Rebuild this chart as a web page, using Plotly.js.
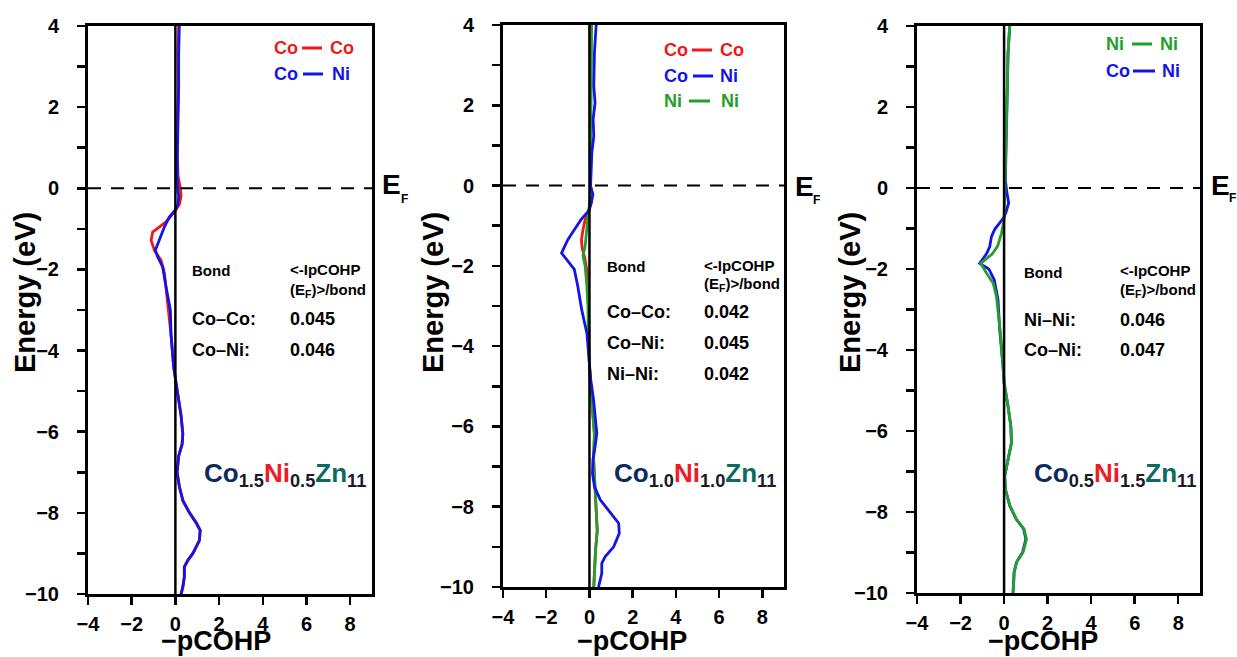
<!DOCTYPE html>
<html>
<head>
<meta charset="utf-8">
<script src="https://cdn.plot.ly/plotly-3.0.1.min.js"></script>
<style>html,body{margin:0;padding:0;background:#fff;}#chart{width:1237px;height:657px;}</style>
</head>
<body>
<div id="chart"></div>
<script>
// ---------------- DATA ----------------
// Panel 1: Co1.5Ni0.5Zn11
const energy1_CoCo = [4.0, 3.3, 2.5, 1.7, 0.85, 0.3, 0.0, -0.2, -0.4, -0.55, -0.83, -1.08, -1.28, -1.53, -1.77, -2.1, -2.43, -3.0, -3.6, -4.4, -4.8, -5.2, -5.6, -6.05, -6.3, -6.6, -7.0, -7.35, -7.7, -8.0, -8.25, -8.43, -8.68, -9.0, -9.17, -9.33, -9.58, -9.83, -10];
const pcohp1_CoCo  = [0.15, 0.12, 0.13, 0.1, 0.08, 0.12, 0.23, 0.26, 0.18, 0.0, -0.43, -1.04, -1.11, -0.96, -0.66, -0.5, -0.43, -0.31, -0.2, -0.08, 0.03, 0.15, 0.26, 0.34, 0.31, 0.15, 0.08, 0.18, 0.35, 0.66, 0.97, 1.14, 1.1, 0.8, 0.57, 0.41, 0.41, 0.34, 0.26];
const energy1_CoNi = [4.0, 3.3, 2.5, 1.7, 0.85, 0.3, 0.0, -0.2, -0.4, -0.55, -0.71, -0.95, -1.28, -1.53, -1.69, -1.94, -2.43, -3.0, -3.6, -4.4, -4.8, -5.2, -5.6, -6.05, -6.3, -6.6, -7.0, -7.35, -7.7, -8.0, -8.25, -8.43, -8.68, -9.0, -9.17, -9.33, -9.58, -9.83, -10];
const pcohp1_CoNi  = [0.18, 0.15, 0.15, 0.11, 0.09, 0.09, 0.1, 0.15, 0.12, -0.03, -0.28, -0.5, -0.73, -0.92, -0.81, -0.58, -0.43, -0.23, -0.2, -0.08, 0.03, 0.15, 0.26, 0.34, 0.31, 0.15, 0.08, 0.18, 0.34, 0.64, 0.95, 1.13, 1.1, 0.8, 0.57, 0.41, 0.41, 0.34, 0.26];

// Panel 2: Co1.0Ni1.0Zn11
const energy2_CoCo = [4.0, 2.0, 0.5, 0.0, -0.2, -0.4, -0.6, -0.85, -1.1, -1.35, -1.55, -1.8, -2.1, -2.5, -3.1, -4.0, -4.5, -5.3, -6.2, -6.8, -7.5, -8.2, -8.6, -9.1, -9.6, -10];
const pcohp2_CoCo  = [0.02, 0.02, 0.02, 0.05, 0.12, 0.1, 0.0, -0.2, -0.3, -0.37, -0.34, -0.22, -0.12, -0.08, -0.04, -0.02, 0.0, 0.1, 0.23, 0.19, 0.26, 0.35, 0.36, 0.28, 0.22, 0.2];
const energy2_NiNi = [4.0, 3.0, 2.0, 1.0, 0.0, -0.3, -0.7, -1.1, -1.5, -1.75, -2.0, -2.5, -3.0, -3.7, -4.5, -5.3, -6.2, -6.8, -7.5, -8.2, -8.6, -9.1, -9.6, -10];
const pcohp2_NiNi  = [0.1, 0.08, 0.07, 0.05, 0.02, 0.04, -0.05, -0.12, -0.2, -0.3, -0.2, -0.12, -0.07, -0.05, 0.0, 0.1, 0.23, 0.19, 0.26, 0.35, 0.36, 0.28, 0.22, 0.2];
const energy2_CoNi = [4.0, 3.31, 2.48, 2.06, 1.65, 1.23, 0.82, 0.4, -0.02, -0.22, -0.43, -0.64, -0.85, -1.1, -1.35, -1.68, -1.85, -2.09, -2.51, -3.09, -3.67, -4.5, -4.84, -5.34, -5.75, -6.17, -6.5, -6.83, -7.17, -7.5, -7.83, -8.16, -8.41, -8.66, -9.0, -9.24, -9.41, -9.66, -10];
const pcohp2_CoNi  = [0.31, 0.23, 0.2, 0.26, 0.17, 0.2, 0.11, 0.08, 0.05, 0.16, 0.08, -0.05, -0.39, -0.7, -1.0, -1.29, -1.04, -0.7, -0.54, -0.36, -0.12, 0.0, 0.06, 0.19, 0.26, 0.34, 0.26, 0.16, 0.14, 0.23, 0.5, 0.96, 1.35, 1.38, 1.12, 0.73, 0.57, 0.57, 0.42];

// Panel 3: Co0.5Ni1.5Zn11
const energy3_CoNi = [4.0, 3.3, 2.5, 1.7, 0.85, 0.2, -0.04, -0.37, -0.58, -0.72, -0.86, -1.02, -1.2, -1.45, -1.62, -1.82, -1.86, -2.0, -2.27, -2.76, -3.5, -4.4, -4.81, -5.39, -5.88, -6.29, -6.7, -7.11, -7.44, -7.85, -8.18, -8.42, -8.67, -9.0, -9.24, -9.49, -9.74, -10];
const pcohp3_CoNi  = [0.26, 0.18, 0.15, 0.11, 0.08, 0.06, 0.11, 0.21, 0.1, 0.0, -0.2, -0.43, -0.58, -0.66, -0.8, -1.08, -1.12, -0.7, -0.45, -0.28, -0.2, -0.05, 0.0, 0.18, 0.31, 0.34, 0.18, 0.03, 0.06, 0.27, 0.56, 0.9, 1.0, 0.85, 0.57, 0.46, 0.44, 0.41];
const energy3_NiNi = [4.0, 3.32, 2.5, 1.68, 0.86, 0.2, -0.37, -0.79, -1.12, -1.44, -1.63, -1.86, -2.1, -2.35, -2.68, -3.0, -3.58, -4.4, -4.81, -5.39, -5.88, -6.29, -6.7, -7.11, -7.44, -7.85, -8.18, -8.42, -8.67, -9.0, -9.24, -9.49, -9.74, -10];
const pcohp3_NiNi  = [0.26, 0.18, 0.15, 0.11, 0.08, 0.06, 0.03, 0.0, -0.12, -0.3, -0.55, -1.07, -0.81, -0.5, -0.35, -0.28, -0.17, -0.05, 0.0, 0.18, 0.31, 0.34, 0.18, 0.03, 0.06, 0.26, 0.57, 0.92, 1.03, 0.87, 0.57, 0.46, 0.44, 0.41];

// Ticks
const xTickVals = [-4, -2, 0, 2, 4, 6, 8];
const xTickText = ["−4", "−2", "0", "2", "4", "6", "8"];
const yTickVals = [-10, -8, -6, -4, -2, 0, 2, 4];
const yTickText = ["−10", "−8", "−6", "−4", "−2", "0", "2", "4"];
const xRange = [-4, 9];
const yRange = [-10, 4];

// Text content
const legendRows1 = [["Co", "Co"], ["Co", "Ni"]];
const legendRows2 = [["Co", "Co"], ["Co", "Ni"], ["Ni", "Ni"]];
const legendRows3 = [["Ni", "Ni"], ["Co", "Ni"]];
const bondNames1 = ["Co–Co:", "Co–Ni:"];
const bondValues1 = ["0.045", "0.046"];
const bondNames2 = ["Co–Co:", "Co–Ni:", "Ni–Ni:"];
const bondValues2 = ["0.042", "0.045", "0.042"];
const bondNames3 = ["Ni–Ni:", "Co–Ni:"];
const bondValues3 = ["0.046", "0.047"];
const compoundSubs1 = ["1.5", "0.5", "11"];
const compoundSubs2 = ["1.0", "1.0", "11"];
const compoundSubs3 = ["0.5", "1.5", "11"];

// ---------------- STYLE / LAYOUT ----------------
const W = 1237, H = 657;
const FONT = "Liberation Sans, Arial, sans-serif";
const RED = "#f01818", BLUE = "#1414e6", GREEN = "#22a02a";
const CO_C = "#0c2a60", NI_C = "#ee1c25", ZN_C = "#0b6b60", SUB_C = "#1a1a2a";
const px = v => v / W, py = v => 1 - v / H;
const bold = arr => arr.map(t => "<b>" + t + "</b>");

function tr(x, y, color, ax) {
  return {x: x, y: y, mode: "lines", type: "scatter", line: {color: color, width: 2.8},
          xaxis: "x" + ax, yaxis: "y" + ax, hoverinfo: "skip"};
}
const data = [
  tr(pcohp1_CoCo, energy1_CoCo, RED, ""),
  tr(pcohp1_CoNi, energy1_CoNi, BLUE, ""),
  tr(pcohp2_CoCo, energy2_CoCo, RED, "2"),
  tr(pcohp2_NiNi, energy2_NiNi, GREEN, "2"),
  tr(pcohp2_CoNi, energy2_CoNi, BLUE, "2"),
  tr(pcohp3_CoNi, energy3_CoNi, BLUE, "3"),
  tr(pcohp3_NiNi, energy3_NiNi, GREEN, "3")
];

const panels = [
  {s: "", xl: 88, xr: 372, yt: 26, yb: 594},
  {s: "2", xl: 503, xr: 784, yt: 25, yb: 587},
  {s: "3", xl: 917, xr: 1200, yt: 26, yb: 593}
];

const TICKFONT = {family: FONT, size: 20, color: "#000", weight: "bold"};
function xa(p) {
  return {domain: [px(p.xl), px(p.xr)], range: xRange, tickmode: "array",
    tickvals: xTickVals, ticktext: bold(xTickText),
    ticks: "outside", ticklen: 8, tickwidth: 2.5, tickcolor: "#000",
    showline: true, linewidth: 3, linecolor: "#000", mirror: true,
    showgrid: false, zeroline: false, fixedrange: true, ticklabelstandoff: 2,
    anchor: "y" + p.s, tickfont: TICKFONT};
}
function ya(p) {
  return {domain: [py(p.yb), py(p.yt)], range: yRange, tickmode: "array",
    tickvals: yTickVals, ticktext: bold(yTickText),
    ticks: "outside", ticklen: 8, tickwidth: 2.5, tickcolor: "#000",
    minor: {tickmode: "linear", tick0: 0, dtick: 1, ticks: "outside", ticklen: 8, tickwidth: 2.5, tickcolor: "#000"},
    showline: true, linewidth: 3, linecolor: "#000", mirror: true,
    showgrid: false, zeroline: false, fixedrange: true, ticklabelstandoff: 14,
    anchor: "x" + p.s, tickfont: TICKFONT};
}

const shapes = [];
const annotations = [];
function ann(x, y, text, size, color, extra) {
  return Object.assign({xref: "paper", yref: "paper", x: px(x), y: py(y), text: text,
    showarrow: false, xanchor: "left", yanchor: "middle",
    font: {family: FONT, size: size, color: color}}, extra || {});
}

panels.forEach(p => {
  shapes.push({type: "line", xref: "x" + p.s + " domain", x0: 0, x1: 1, yref: "y" + p.s, y0: 0, y1: 0,
               line: {color: "#000", width: 2, dash: "13px,10px"}, layer: "above"});
  shapes.push({type: "line", xref: "x" + p.s, x0: 0, x1: 0, yref: "y" + p.s + " domain", y0: 0, y1: 1,
               line: {color: "#000", width: 2.5}, layer: "above"});
});

// Axis titles
const yTitleX = [25, 433, 850];
const xTitleX = [216, 632, 1043];
panels.forEach((p, i) => {
  annotations.push(ann(yTitleX[i], 293, "<b>Energy (eV)</b>", 29, "#000", {xanchor: "center", textangle: -90}));
  annotations.push(ann(xTitleX[i], 641, "<b>−pCOHP</b>", 27, "#000", {xanchor: "center"}));
});

// E_F labels
const efPos = [[380, 184, 399, 199], [793, 187, 811, 200], [1209, 185, 1227, 198]];
efPos.forEach(e => {
  annotations.push(ann(e[0], e[1], "<b>E</b>", 28, "#000"));
  annotations.push(ann(e[2], e[3], "<b>F</b>", 12, "#000"));
});

// Custom legends
function legend(rows, colors, x1, lineX0, lineX1, x2, ys) {
  rows.forEach((r, i) => {
    annotations.push(ann(x1, ys[i], "<b>" + r[0] + "</b>", 18, colors[i]));
    annotations.push(ann(x2[i], ys[i], "<b>" + r[1] + "</b>", 18, colors[i]));
    shapes.push({type: "line", xref: "paper", yref: "paper", x0: px(lineX0[i]), x1: px(lineX1[i]),
                 y0: py(ys[i]), y1: py(ys[i]), line: {color: colors[i], width: 3}});
  });
}
legend(legendRows1, [RED, BLUE], 272, [302, 303], [322, 323], [328, 330], [48, 74]);
legend(legendRows2, [RED, BLUE, GREEN], 662, [692, 693, 689], [712, 713, 710], [718, 718, 719], [50, 76, 101]);
legend(legendRows3, [GREEN, BLUE], 1104, [1132, 1133], [1152, 1155], [1158, 1160], [44, 71]);

// Bond tables
function table(xL, xR, yBond, yHead2, rowYs, names, vals) {
  annotations.push(ann(xL, yBond, "<b>Bond</b>", 15, "#000"));
  annotations.push(ann(xR, yBond - 1, "<b>&lt;-IpCOHP</b>", 15, "#000"));
  annotations.push(ann(xR, yHead2, "<b>(E<sub>F</sub>)&gt;/bond</b>", 15, "#000"));
  names.forEach((n, i) => {
    annotations.push(ann(xL, rowYs[i], "<b>" + n + "</b>", 18, "#000"));
    annotations.push(ann(xR, rowYs[i], "<b>" + vals[i] + "</b>", 18, "#000"));
  });
}
table(190, 288, 270, 290, [319, 350], bondNames1, bondValues1);
table(605, 702, 266, 284, [312, 343, 374], bondNames2, bondValues2);
table(1022, 1118, 272, 290, [320, 350], bondNames3, bondValues3);

// Compound labels
function compound(x, y, subs) {
  const t = "<b><span style='color:" + CO_C + "'>Co</span><sub><span style='color:" + SUB_C + "'>" + subs[0] + "</span></sub>" +
            "<span style='color:" + NI_C + "'>Ni</span><sub><span style='color:" + SUB_C + "'>" + subs[1] + "</span></sub>" +
            "<span style='color:" + ZN_C + "'>Zn</span><sub><span style='color:" + SUB_C + "'>" + subs[2] + "</span></sub></b>";
  annotations.push(ann(x, y, t, 26, CO_C));
}
compound(202, 474, compoundSubs1);
compound(612, 474, compoundSubs2);
compound(1032, 474, compoundSubs3);

const layout = {
  width: W, height: H, margin: {l: 0, r: 0, t: 0, b: 0},
  paper_bgcolor: "#fff", plot_bgcolor: "#fff", showlegend: false,
  xaxis: xa(panels[0]), yaxis: ya(panels[0]),
  xaxis2: xa(panels[1]), yaxis2: ya(panels[1]),
  xaxis3: xa(panels[2]), yaxis3: ya(panels[2]),
  shapes: shapes, annotations: annotations
};

Plotly.newPlot("chart", data, layout, {displayModeBar: false, staticPlot: true});
</script>
</body>
</html>
